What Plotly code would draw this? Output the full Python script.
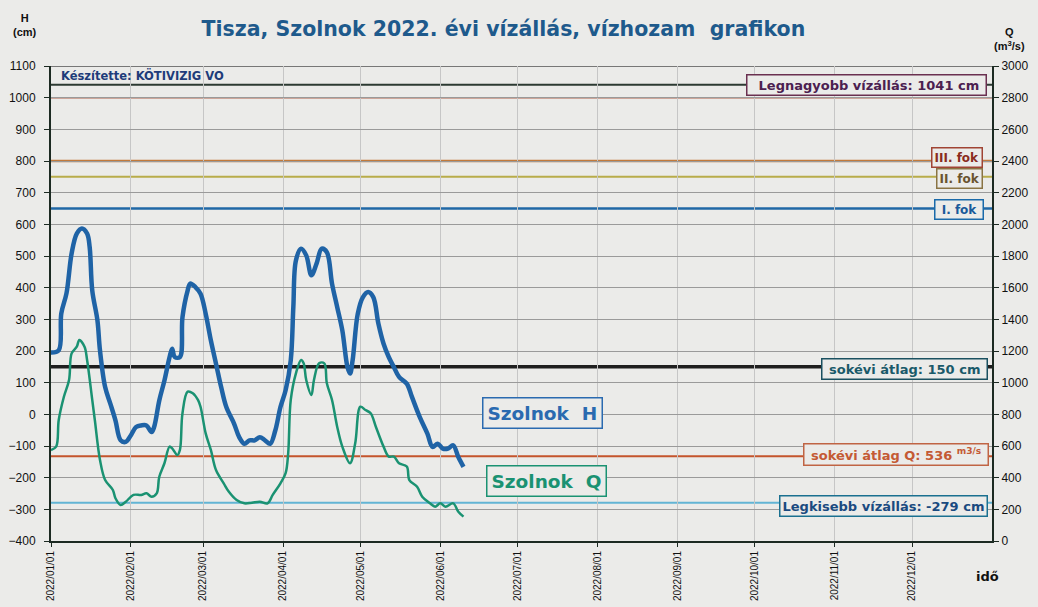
import plotly.graph_objects as go

# Szolnok H (cm), 2022
h_dates = ['2022-01-01', '2022-01-04', '2022-01-05', '2022-01-07', '2022-01-09', '2022-01-11', '2022-01-13',
           '2022-01-15', '2022-01-16', '2022-01-17', '2022-01-19', '2022-01-20', '2022-01-22', '2022-01-24',
           '2022-01-26', '2022-01-28', '2022-01-30', '2022-02-01', '2022-02-03', '2022-02-05', '2022-02-07',
           '2022-02-09', '2022-02-10', '2022-02-12', '2022-02-14', '2022-02-16', '2022-02-17', '2022-02-18',
           '2022-02-20', '2022-02-21', '2022-02-23', '2022-02-24', '2022-02-26', '2022-02-28', '2022-03-02',
           '2022-03-04', '2022-03-06', '2022-03-08', '2022-03-10', '2022-03-13', '2022-03-15', '2022-03-17',
           '2022-03-19', '2022-03-21', '2022-03-23', '2022-03-25', '2022-03-27', '2022-03-29', '2022-03-31',
           '2022-04-02', '2022-04-04', '2022-04-05', '2022-04-06', '2022-04-08', '2022-04-10', '2022-04-12',
           '2022-04-14', '2022-04-16', '2022-04-18', '2022-04-20', '2022-04-22', '2022-04-24', '2022-04-26',
           '2022-04-27', '2022-04-28', '2022-04-30', '2022-05-02', '2022-05-04', '2022-05-06', '2022-05-08',
           '2022-05-10', '2022-05-12', '2022-05-14', '2022-05-16', '2022-05-19', '2022-05-21', '2022-05-24',
           '2022-05-27', '2022-05-29', '2022-05-31', '2022-06-02', '2022-06-04', '2022-06-06', '2022-06-08',
           '2022-06-10']
h_values = [195, 202, 319, 382, 508, 571, 587, 571, 528, 391, 297, 202, 86, 34, -19, -82, -87, -66, -40,
            -35, -35, -56, -40, 44, 107, 181, 207, 181, 181, 307, 391, 413, 402, 381, 318, 234, 160, 86,
            23, -29, -72, -93, -82, -82, -72, -82, -93, -51, 23, 76, 171, 339, 486, 523, 502, 439, 476,
            523, 512, 413, 339, 265, 149, 129, 171, 318, 370, 386, 370, 286, 223, 181, 149, 118, 97, 55,
            -8, -61, -103, -93, -108, -108, -98, -135, -166]

# Szolnok Q (m3/s), 2022
q_dates = ['2022-01-01', '2022-01-03', '2022-01-04', '2022-01-06', '2022-01-08', '2022-01-09', '2022-01-11',
           '2022-01-12', '2022-01-14', '2022-01-15', '2022-01-17', '2022-01-18', '2022-01-20', '2022-01-22',
           '2022-01-25', '2022-01-26', '2022-01-28', '2022-01-30', '2022-02-02', '2022-02-05', '2022-02-07',
           '2022-02-09', '2022-02-11', '2022-02-12', '2022-02-14', '2022-02-16', '2022-02-17', '2022-02-19',
           '2022-02-20', '2022-02-21', '2022-02-23', '2022-02-25', '2022-02-27', '2022-02-28', '2022-03-02',
           '2022-03-04', '2022-03-06', '2022-03-09', '2022-03-11', '2022-03-14', '2022-03-17', '2022-03-20',
           '2022-03-23', '2022-03-26', '2022-03-28', '2022-03-31', '2022-04-02', '2022-04-03', '2022-04-04',
           '2022-04-06', '2022-04-08', '2022-04-09', '2022-04-10', '2022-04-12', '2022-04-13', '2022-04-15',
           '2022-04-17', '2022-04-18', '2022-04-20', '2022-04-22', '2022-04-24', '2022-04-27', '2022-04-29',
           '2022-05-01', '2022-05-03', '2022-05-05', '2022-05-07', '2022-05-10', '2022-05-12', '2022-05-14',
           '2022-05-16', '2022-05-19', '2022-05-20', '2022-05-23', '2022-05-25', '2022-05-28', '2022-05-30',
           '2022-06-01', '2022-06-03', '2022-06-06', '2022-06-08', '2022-06-10']
q_values = [575, 596, 764, 911, 1017, 1185, 1227, 1270, 1227, 1143, 891, 764, 512, 385, 322, 270, 227, 248,
            291, 291, 301, 280, 301, 406, 491, 596, 585, 543, 575, 807, 943, 933, 891, 848, 680, 575, 448,
            364, 311, 259, 238, 242, 248, 238, 291, 364, 428, 554, 891, 1059, 1143, 1122, 1017, 922, 1017,
            1122, 1122, 996, 891, 722, 596, 491, 617, 848, 827, 807, 722, 596, 533, 533, 491, 470, 385,
            343, 280, 238, 217, 238, 217, 238, 185, 154]

# havi tengely
month_starts = ['2022-%02d-01' % m for m in range(1, 13)]
month_labels = ['2022/%02d/01' % m for m in range(1, 13)]

# jellemző vízszintek (cm)
lnv = 1041
lnq_line = 1000
fok3 = 800
fok2 = 750
fok1 = 650
kozep_h = 150
kozep_q = 536
lkv = -279

BG = '#ebebe9'
FONT = 'Liberation Sans, Arial, sans-serif'
WIDE = 'DejaVu Sans, Verdana, sans-serif'

fig = go.Figure()

fig.add_trace(go.Scatter(x=h_dates, y=h_values, mode='lines', line=dict(color='#1f63a6', width=4.5, shape='spline'),
                         name='Szolnok H', yaxis='y'))
fig.add_trace(go.Scatter(x=q_dates, y=q_values, mode='lines', line=dict(color='#1a9272', width=2.5, shape='spline'),
                         name='Szolnok Q', yaxis='y2'))

# vízszintes vonalak
def hline(y, color, width):
    fig.add_shape(type='line', xref='paper', x0=0, x1=1, yref='y', y0=y, y1=y,
                  line=dict(color=color, width=width), layer='below')

hline(1100, '#505050', 1.5)
hline(lnq_line, '#b0604a', 1.5)
hline(lnv, '#2c3a32', 2)
hline(fok3, '#c27a3c', 2.5)
hline(fok2, '#b8ac4a', 2)
hline(fok1, '#2068a6', 2.5)
hline(kozep_h, '#1e1e1e', 3.5)
hline(kozep_q / 2 - 400, '#c4542c', 2)
hline(lkv, '#62b4d4', 2)

# címkék
def label(text, y, xr, color, border, size=12):
    fig.add_annotation(text='<b>%s</b>' % text, xref='paper', x=xr, xanchor='right', yref='y', y=y,
                       showarrow=False, font=dict(family=WIDE, size=size, color=color),
                       bgcolor=BG, bordercolor=border, borderwidth=1.5, borderpad=2)

label('&nbsp;&nbsp;Legnagyobb vízállás: %d cm&nbsp;' % lnv, lnv, 0.995, '#4b2050', '#6a3050', 13)
label('III. fok', 811, 0.99, '#8a2c20', '#a04434')
label('II. fok', 745, 0.99, '#6a5430', '#8a7444')
label('&nbsp;I. fok&nbsp;', 647, 0.992, '#1a5a9a', '#1a6aaa')
label('&nbsp;sokévi átlag: %d cm&nbsp;' % kozep_h, 142, 0.996, '#1a5a6a', '#1a5060', 13)
label('&nbsp;sokévi átlag Q: %d <sup>m3/s</sup>&nbsp;' % kozep_q, -128, 0.997, '#c45a34', '#c06444', 13)
label('Legkisebb vízállás: %d cm' % lkv, -289, 0.996, '#1a4a80', '#1a7090', 13)

fig.add_annotation(text='<b>Szolnok  H</b>', xref='paper', x=0.522, yref='y', y=5, showarrow=False,
                   font=dict(family=WIDE, size=18.5, color='#2a6ab0'), bgcolor=BG,
                   bordercolor='#2a6ab0', borderwidth=1.5, borderpad=4)
fig.add_annotation(text='<b>Szolnok  Q</b>', xref='paper', x=0.527, yref='y', y=-211, showarrow=False,
                   font=dict(family=WIDE, size=18.5, color='#1a9272'), bgcolor=BG,
                   bordercolor='#1a9272', borderwidth=1.5, borderpad=4)

fig.add_annotation(text='<b>Készítette: KÖTIVIZIG VO</b>', xref='paper', x=0.008, xanchor='left', yref='y', y=1069,
                   showarrow=False, font=dict(family=WIDE, size=11.5, color='#1e3c7a'))

# tengelyfeliratok
fig.add_annotation(text='<b>H<br>(cm)</b>', xref='paper', yref='paper', x=-0.028, y=1.055, xanchor='center',
                   yanchor='bottom', showarrow=False, font=dict(family=FONT, size=11, color='#111'))
fig.add_annotation(text='<b>Q<br>(m<sup>3</sup>/s)</b>', xref='paper', yref='paper', x=1.019, y=1.025, xanchor='center',
                   yanchor='bottom', showarrow=False, font=dict(family=FONT, size=11, color='#111'))
fig.add_annotation(text='<b>idő</b>', xref='paper', yref='paper', x=0.995, y=-0.055, xanchor='center',
                   yanchor='top', showarrow=False, font=dict(family=WIDE, size=13, color='#111'))

fig.update_layout(
    width=1038, height=607,
    margin=dict(l=51, r=46, t=66, b=66),
    paper_bgcolor=BG, plot_bgcolor=BG,
    showlegend=False,
    title=dict(text='<b>Tisza, Szolnok 2022. évi vízállás, vízhozam  grafikon</b>', x=0.485, xanchor='center',
               y=0.953, yanchor='middle', font=dict(family=WIDE, size=20.5, color='#1e5a8c')),
    xaxis=dict(type='date', range=['2022-01-01', '2023-01-01'], tickvals=month_starts, ticktext=month_labels,
               tickangle=-90, tickfont=dict(family=FONT, size=10, color='#111'), automargin=False,
               showgrid=True, gridcolor='#c6c6c6', gridwidth=1,
               showline=True, linecolor='#1c2a22', linewidth=2, ticks='outside', ticklen=4, tickcolor='#1c2a22',
               zeroline=False),
    yaxis=dict(range=[-400, 1100], dtick=100, tickfont=dict(family=FONT, size=12, color='#111'), automargin=False,
               showgrid=True, gridcolor='#9a9a9a', gridwidth=1, zeroline=False, ticklabelstandoff=6,
               showline=True, linecolor='#1c2a22', linewidth=2, ticks='outside', ticklen=5, tickcolor='#1c2a22'),
    yaxis2=dict(range=[0, 3000], dtick=200, overlaying='y', side='right', automargin=False,
                tickfont=dict(family=FONT, size=12, color='#111'), showgrid=False, zeroline=False,
                showline=True, linecolor='#1c2a22', linewidth=2, ticks='outside', ticklen=5, tickcolor='#1c2a22'),
)

fig.write_html('out.html', config={'displayModeBar': False},
               post_script="document.body.style.margin='0';document.body.style.overflow='hidden';")
